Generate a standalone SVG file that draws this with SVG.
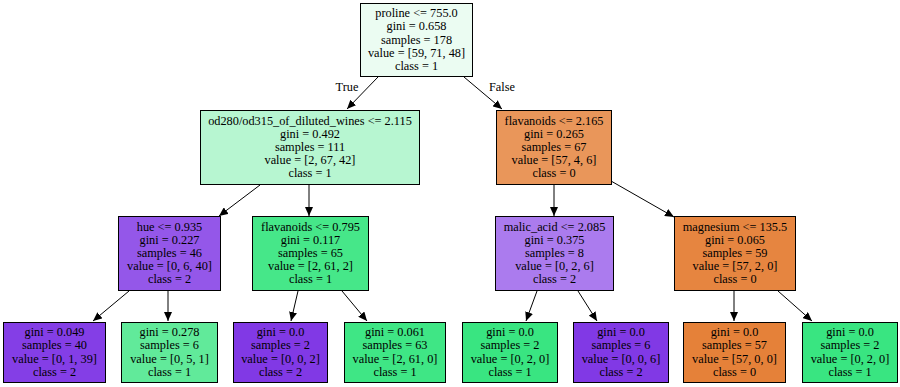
<svg xmlns="http://www.w3.org/2000/svg" width="900" height="387" viewBox="0 0 900 387">
<style>
  text { font-family: "Liberation Serif", "Times New Roman", serif; font-size: 12.3px; fill: #000; text-anchor: middle; }
  .box { stroke: #000; stroke-width: 1; }
  .edge { stroke: #000; stroke-width: 1; fill: none; marker-end: url(#arr); }
</style>
<defs>
  <marker id="arr" markerWidth="10" markerHeight="8" refX="9" refY="4" orient="auto" markerUnits="userSpaceOnUse">
    <path d="M0,0 L9,4 L0,8 Z" fill="#000"/>
  </marker>
</defs>
<rect width="900" height="387" fill="#fff"/>
<g id="connectors">
  <line class="edge" x1="378" y1="77" x2="347" y2="109"/>
  <line class="edge" x1="464" y1="77" x2="502" y2="109"/>
  <text x="347" y="91">True</text>
  <text x="502" y="91">False</text>
  <line class="edge" x1="260" y1="185" x2="219" y2="216"/>
  <line class="edge" x1="309" y1="185" x2="309" y2="216"/>
  <line class="edge" x1="554" y1="185" x2="554" y2="216"/>
  <line class="edge" x1="611" y1="181" x2="674" y2="217"/>
  <line class="edge" x1="129" y1="291" x2="93" y2="321"/>
  <line class="edge" x1="168" y1="291" x2="168" y2="321"/>
  <line class="edge" x1="298" y1="291" x2="291" y2="321"/>
  <line class="edge" x1="342" y1="291" x2="367" y2="321"/>
  <line class="edge" x1="537" y1="291" x2="526" y2="321"/>
  <line class="edge" x1="578" y1="291" x2="597" y2="321"/>
  <line class="edge" x1="734" y1="291" x2="734" y2="321"/>
  <line class="edge" x1="778" y1="291" x2="812" y2="321"/>
</g>
<g id="n0">
  <rect class="box" x="360.5" y="3.5" width="112" height="73" fill="#ebfcf2"/>
  <text x="416.5" y="17.1">proline &lt;= 755.0</text>
  <text x="416.5" y="30.3">gini = 0.658</text>
  <text x="416.5" y="43.5">samples = 178</text>
  <text x="416.5" y="56.7">value = [59, 71, 48]</text>
  <text x="416.5" y="69.9">class = 1</text>
</g>
<g id="n1">
  <rect class="box" x="200.5" y="110.5" width="219" height="74" fill="#b7f6d1"/>
  <text x="310" y="124.6">od280/od315_of_diluted_wines &lt;= 2.115</text>
  <text x="310" y="137.8">gini = 0.492</text>
  <text x="310" y="151">samples = 111</text>
  <text x="310" y="164.2">value = [2, 67, 42]</text>
  <text x="310" y="177.4">class = 1</text>
</g>
<g id="n2">
  <rect class="box" x="496.5" y="110.5" width="115" height="74" fill="#e9965a"/>
  <text x="554" y="124.6">flavanoids &lt;= 2.165</text>
  <text x="554" y="137.8">gini = 0.265</text>
  <text x="554" y="151">samples = 67</text>
  <text x="554" y="164.2">value = [57, 4, 6]</text>
  <text x="554" y="177.4">class = 0</text>
</g>
<g id="n3">
  <rect class="box" x="118.5" y="216.5" width="102" height="74" fill="#9457e9"/>
  <text x="169.5" y="230.6">hue &lt;= 0.935</text>
  <text x="169.5" y="243.8">gini = 0.227</text>
  <text x="169.5" y="257">samples = 46</text>
  <text x="169.5" y="270.2">value = [0, 6, 40]</text>
  <text x="169.5" y="283.4">class = 2</text>
</g>
<g id="n4">
  <rect class="box" x="252.5" y="216.5" width="116" height="74" fill="#46e789"/>
  <text x="310.5" y="230.6">flavanoids &lt;= 0.795</text>
  <text x="310.5" y="243.8">gini = 0.117</text>
  <text x="310.5" y="257">samples = 65</text>
  <text x="310.5" y="270.2">value = [2, 61, 2]</text>
  <text x="310.5" y="283.4">class = 1</text>
</g>
<g id="n5">
  <rect class="box" x="495.5" y="216.5" width="118" height="74" fill="#ab7bee"/>
  <text x="554.5" y="230.6">malic_acid &lt;= 2.085</text>
  <text x="554.5" y="243.8">gini = 0.375</text>
  <text x="554.5" y="257">samples = 8</text>
  <text x="554.5" y="270.2">value = [0, 2, 6]</text>
  <text x="554.5" y="283.4">class = 2</text>
</g>
<g id="n6">
  <rect class="box" x="674.5" y="216.5" width="121" height="74" fill="#e68540"/>
  <text x="735" y="230.6">magnesium &lt;= 135.5</text>
  <text x="735" y="243.8">gini = 0.065</text>
  <text x="735" y="257">samples = 59</text>
  <text x="735" y="270.2">value = [57, 2, 0]</text>
  <text x="735" y="283.4">class = 0</text>
</g>
<g id="n7">
  <rect class="box" x="3.5" y="322.5" width="102" height="60" fill="#843ee6"/>
  <text x="54.5" y="336.2">gini = 0.049</text>
  <text x="54.5" y="349.4">samples = 40</text>
  <text x="54.5" y="362.6">value = [0, 1, 39]</text>
  <text x="54.5" y="375.8">class = 2</text>
</g>
<g id="n8">
  <rect class="box" x="121.5" y="322.5" width="96" height="60" fill="#61ea9a"/>
  <text x="169.5" y="336.2">gini = 0.278</text>
  <text x="169.5" y="349.4">samples = 6</text>
  <text x="169.5" y="362.6">value = [0, 5, 1]</text>
  <text x="169.5" y="375.8">class = 1</text>
</g>
<g id="n9">
  <rect class="box" x="233.5" y="322.5" width="94" height="60" fill="#8139e5"/>
  <text x="280.5" y="336.2">gini = 0.0</text>
  <text x="280.5" y="349.4">samples = 2</text>
  <text x="280.5" y="362.6">value = [0, 0, 2]</text>
  <text x="280.5" y="375.8">class = 2</text>
</g>
<g id="n10">
  <rect class="box" x="344.5" y="322.5" width="101" height="60" fill="#3fe685"/>
  <text x="395" y="336.2">gini = 0.061</text>
  <text x="395" y="349.4">samples = 63</text>
  <text x="395" y="362.6">value = [2, 61, 0]</text>
  <text x="395" y="375.8">class = 1</text>
</g>
<g id="n11">
  <rect class="box" x="462.5" y="322.5" width="95" height="60" fill="#39e581"/>
  <text x="510" y="336.2">gini = 0.0</text>
  <text x="510" y="349.4">samples = 2</text>
  <text x="510" y="362.6">value = [0, 2, 0]</text>
  <text x="510" y="375.8">class = 1</text>
</g>
<g id="n12">
  <rect class="box" x="573.5" y="322.5" width="95" height="60" fill="#8139e5"/>
  <text x="621" y="336.2">gini = 0.0</text>
  <text x="621" y="349.4">samples = 6</text>
  <text x="621" y="362.6">value = [0, 0, 6]</text>
  <text x="621" y="375.8">class = 2</text>
</g>
<g id="n13">
  <rect class="box" x="683.5" y="322.5" width="102" height="60" fill="#e58139"/>
  <text x="734.5" y="336.2">gini = 0.0</text>
  <text x="734.5" y="349.4">samples = 57</text>
  <text x="734.5" y="362.6">value = [57, 0, 0]</text>
  <text x="734.5" y="375.8">class = 0</text>
</g>
<g id="n14">
  <rect class="box" x="802.5" y="322.5" width="95" height="60" fill="#39e581"/>
  <text x="850" y="336.2">gini = 0.0</text>
  <text x="850" y="349.4">samples = 2</text>
  <text x="850" y="362.6">value = [0, 2, 0]</text>
  <text x="850" y="375.8">class = 1</text>
</g>
</svg>
